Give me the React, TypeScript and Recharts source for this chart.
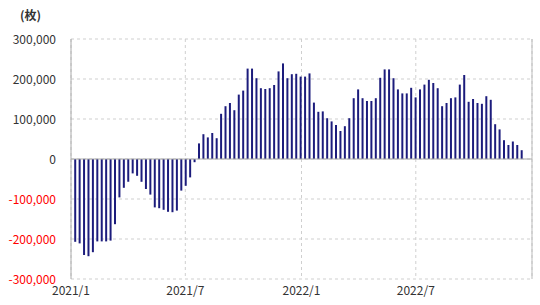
import React from 'react';
import { BarChart, Bar, XAxis, YAxis, CartesianGrid, ReferenceLine } from 'recharts';

const firstWeek = '2021-01-08';
const values: number[] = [
  -207000, -211000, -240000, -243000, -233000, -206000, -206000, -206000, -204000, -163000,
  -96000, -72000, -57000, -36000, -42000, -57000, -75000, -89000, -121000, -123000,
  -127000, -132000, -133000, -129000, -79000, -67000, -46000, -8000, 39000, 62000,
  54000, 65000, 52000, 113000, 132000, 140000, 122000, 161000, 171000, 226000,
  226000, 202000, 177000, 175000, 177000, 185000, 219000, 239000, 202000, 212000,
  213000, 206000, 206000, 214000, 141000, 118000, 119000, 102000, 94000, 85000,
  70000, 82000, 102000, 152000, 174000, 152000, 145000, 145000, 152000, 203000,
  224000, 224000, 202000, 174000, 164000, 164000, 178000, 154000, 174000, 186000,
  198000, 190000, 177000, 132000, 140000, 152000, 154000, 186000, 210000, 143000,
  150000, 140000, 138000, 157000, 148000, 87000, 74000, 47000, 35000, 44000,
  35000, 22000,
];
const tickLabels = ['2021/1', '2021/7', '2022/1', '2022/7'];
const yTicks = [-300000, -200000, -100000, 0, 100000, 200000, 300000];
const unitLabel = '(枚)';

const DAY = 86400000;
const start = Date.parse(firstWeek + 'T00:00:00Z');
const data = values.map((v, i) => ({ t: start + i * 7 * DAY, v }));

const parseLabel = (s: string) => {
  const [y, m] = s.split('/').map(Number);
  return Date.UTC(y, m - 1, 1);
};
const xTicks = tickLabels.map(parseLabel);
const domainStart = xTicks[0];
const domainEnd = Date.UTC(2023, 0, 1);

const FONT = '"Noto Sans CJK JP", "Noto Sans", sans-serif';

const YTick = (props: any) => {
  const { x, y, payload } = props;
  const val = payload.value as number;
  return (
    <text x={x} y={y} dy={4.5} textAnchor="end" fontSize={12} fontFamily={FONT}
      fill={val < 0 ? '#ff0000' : '#333'}>
      {val.toLocaleString('en-US')}
    </text>
  );
};

const XTick = (props: any) => {
  const { x, y, payload } = props;
  const d = new Date(payload.value);
  const label = `${d.getUTCFullYear()}/${d.getUTCMonth() + 1}`;
  return (
    <text x={x} y={y} dy={10} textAnchor="middle" fontSize={12} fontFamily={FONT} fill="#333">
      {label}
    </text>
  );
};

export default function App() {
  return (
    <div style={{ position: 'absolute', left: 0, top: 0, width: 540, height: 305, background: '#fff' }}>
      <div style={{ position: 'absolute', left: 20, top: 6, fontSize: 12, fontWeight: 'bold', fontFamily: FONT, color: '#333' }}>
        {unitLabel}
      </div>
      <BarChart width={540} height={305} data={data} margin={{ top: 39, right: 8, bottom: 6, left: 0 }}>
        <CartesianGrid stroke="#cfcfcf" strokeDasharray="3 3" />
        <XAxis dataKey="t" type="number" domain={[domainStart, domainEnd]} ticks={xTicks}
          allowDataOverflow axisLine={false} tickLine={false} tickSize={0} tickMargin={6}
          height={20} tick={<XTick />} interval={0} />
        <YAxis domain={[-300000, 300000]} ticks={yTicks} width={71} tickLine={false}
          tickSize={0} tickMargin={15} axisLine={{ stroke: '#aaa' }} tick={<YTick />} interval={0} />
        <ReferenceLine y={0} stroke="#aaa" />
        <ReferenceLine x={domainEnd} stroke="#bbb" />
        <Bar dataKey="v" fill="#1c1c7c" barSize={2} isAnimationActive={false} />
      </BarChart>
    </div>
  );
}
